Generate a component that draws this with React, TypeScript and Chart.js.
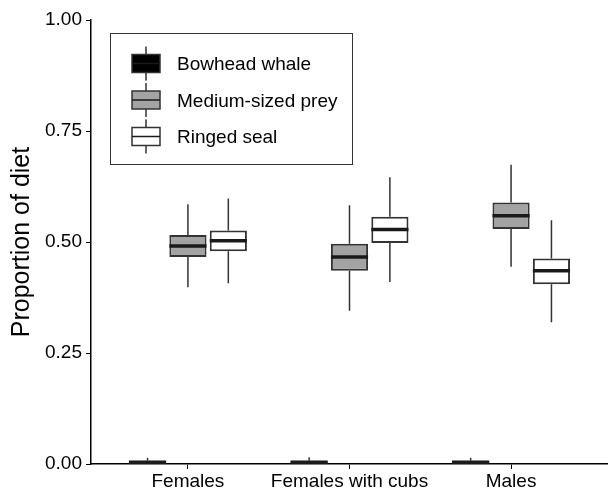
import React, { useEffect, useRef } from "react";
import { Chart, registerables } from "chart.js";

Chart.register(...registerables);

const categories = ["Females", "Females with cubs", "Males"];
const seriesNames = ["Bowhead whale", "Medium-sized prey", "Ringed seal"];
const seriesFill = ["#000000", "#a3a3a3", "#ffffff"];

const bowheadMin = [0.0, 0.0, 0.0];
const bowheadQ1 = [0.0, 0.0, 0.0];
const bowheadMedian = [0.004, 0.004, 0.004];
const bowheadQ3 = [0.0075, 0.0075, 0.0075];
const bowheadMax = [0.014, 0.015, 0.014];

const mediumMin = [0.398, 0.345, 0.444];
const mediumQ1 = [0.466, 0.435, 0.529];
const mediumMedian = [0.491, 0.466, 0.559];
const mediumQ3 = [0.516, 0.496, 0.589];
const mediumMax = [0.585, 0.583, 0.674];

const ringedMin = [0.407, 0.41, 0.319];
const ringedQ1 = [0.479, 0.498, 0.405];
const ringedMedian = [0.503, 0.528, 0.435];
const ringedQ3 = [0.526, 0.557, 0.463];
const ringedMax = [0.598, 0.646, 0.549];

const yTicks = [0, 0.25, 0.5, 0.75, 1.0];

const stats = [
  { min: bowheadMin, q1: bowheadQ1, med: bowheadMedian, q3: bowheadQ3, max: bowheadMax },
  { min: mediumMin, q1: mediumQ1, med: mediumMedian, q3: mediumQ3, max: mediumMax },
  { min: ringedMin, q1: ringedQ1, med: ringedMedian, q3: ringedQ3, max: ringedMax },
];

const FONT = "'Liberation Sans', Arial, sans-serif";

const boxPlugin = {
  id: "boxParts",
  beforeDatasetsDraw(chart: any) {
    const ctx = chart.ctx;
    const y = chart.scales.y;
    ctx.save();
    ctx.strokeStyle = "#333333";
    ctx.lineWidth = 1.5;
    stats.forEach((s, i) => {
      const meta = chart.getDatasetMeta(i);
      meta.data.forEach((bar: any, j: number) => {
        const x = bar.x;
        ctx.beginPath();
        ctx.moveTo(x, y.getPixelForValue(s.max[j]));
        ctx.lineTo(x, y.getPixelForValue(s.q3[j]));
        ctx.moveTo(x, y.getPixelForValue(s.q1[j]));
        ctx.lineTo(x, y.getPixelForValue(s.min[j]));
        ctx.stroke();
      });
    });
    ctx.restore();
  },
  afterDatasetsDraw(chart: any) {
    const ctx = chart.ctx;
    const y = chart.scales.y;
    ctx.save();
    ctx.strokeStyle = "#1a1a1a";
    ctx.lineWidth = 3.5;
    stats.forEach((s, i) => {
      const meta = chart.getDatasetMeta(i);
      meta.data.forEach((bar: any, j: number) => {
        const w = bar.width;
        const py = y.getPixelForValue(s.med[j]);
        ctx.beginPath();
        ctx.moveTo(bar.x - w / 2, py);
        ctx.lineTo(bar.x + w / 2, py);
        ctx.stroke();
      });
    });
    ctx.restore();
  },
  afterDraw(chart: any) {
    const ctx = chart.ctx;
    ctx.save();
    ctx.strokeStyle = "#333333";
    ctx.lineWidth = 1;
    ctx.strokeRect(110.5, 33.5, 242, 131);
    seriesNames.forEach((name, k) => {
      const cy = 63.5 + 36.5 * k;
      const x0 = 132;
      const bw = 28;
      const cx = x0 + bw / 2;
      ctx.strokeStyle = "#333333";
      ctx.lineWidth = 1.5;
      ctx.beginPath();
      ctx.moveTo(cx, cy - 17);
      ctx.lineTo(cx, cy - 9);
      ctx.moveTo(cx, cy + 9);
      ctx.lineTo(cx, cy + 17);
      ctx.stroke();
      ctx.fillStyle = seriesFill[k];
      ctx.fillRect(x0, cy - 9, bw, 18);
      ctx.strokeRect(x0, cy - 9, bw, 18);
      ctx.strokeStyle = "#1a1a1a";
      ctx.beginPath();
      ctx.moveTo(x0, cy);
      ctx.lineTo(x0 + bw, cy);
      ctx.stroke();
      ctx.fillStyle = "#000000";
      ctx.font = `19px ${FONT}`;
      ctx.textBaseline = "middle";
      ctx.textAlign = "left";
      ctx.fillText(name, 177, cy + 1.5);
    });
    ctx.restore();
  },
};

export default function App() {
  const ref = useRef<HTMLCanvasElement | null>(null);
  useEffect(() => {
    if (!ref.current) return;
    const datasets = stats.map((s, i) => ({
      label: seriesNames[i],
      data: categories.map((_, j) => ({ x: j + 1, y: [s.q1[j], s.q3[j]] })),
      backgroundColor: seriesFill[i],
      borderColor: "#333333",
      borderWidth: 2,
      borderSkipped: false,
      categoryPercentage: 0.75,
      barPercentage: 0.92,
    }));
    const chart = new Chart(ref.current, {
      type: "bar",
      data: { datasets },
      options: {
        animation: false,
        responsive: true,
        maintainAspectRatio: false,
        layout: { padding: { top: 20, right: 0, bottom: 0, left: 0 } },
        plugins: { legend: { display: false }, tooltip: { enabled: false } },
        scales: {
          x: {
            type: "linear",
            min: 0.4,
            max: 3.6,
            offset: false,
            afterBuildTicks: (s: any) => {
              s.ticks = categories.map((_, j) => ({ value: j + 1 }));
            },
            afterFit: (s: any) => {
              s.height = 26;
            },
            grid: { display: true, drawOnChartArea: false, drawTicks: true, tickLength: 5, color: "#000", offset: false },
            border: { display: true, color: "#000", width: 1.5 },
            ticks: {
              color: "#000",
              font: { family: FONT, size: 19 },
              padding: 1,
              maxRotation: 0,
              autoSkip: false,
              callback: (v: any) => categories[Math.round(Number(v)) - 1] ?? "",
            },
          },
          y: {
            type: "linear",
            min: 0,
            max: 1,
            afterBuildTicks: (s: any) => {
              s.ticks = yTicks.map((v) => ({ value: v }));
            },
            afterFit: (s: any) => {
              s.width = 91;
            },
            grid: { display: true, drawOnChartArea: false, drawTicks: true, tickLength: 5, color: "#000" },
            border: { display: true, color: "#000", width: 1.5 },
            ticks: {
              color: "#000",
              font: { family: FONT, size: 19 },
              padding: 4,
              callback: (v: any) => Number(v).toFixed(2),
            },
            title: {
              display: true,
              text: "Proportion of diet",
              color: "#000",
              font: { family: FONT, size: 25 },
              padding: { top: 7, bottom: 0 },
            },
          },
        },
      },
      plugins: [boxPlugin],
    } as any);
    return () => chart.destroy();
  }, []);
  return (
    <div style={{ position: "fixed", left: 0, top: 0, width: 608, height: 490, background: "#fff" }}>
      <canvas ref={ref} />
    </div>
  );
}
